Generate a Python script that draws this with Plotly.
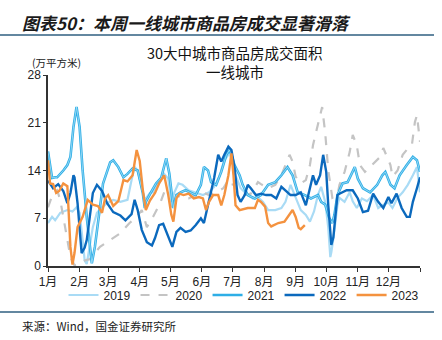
import plotly.graph_objects as go

# ---- data (day of year, value in 万平方米) ----
d2019 = [0,4,7,12,19,24,28,31,34,36,38,41,44,48,53,58,64,71,78,82,85,88,92,95,100,103,107,109,114,118,121,124,128,132,138,145,152,158,163,168,173,178,180,184,189,196,201,206,211,216,223,229,233,238,243,248,253,257,261,265,268,272,275,277,278,280,284,286,291,296,299,303,308,313,319,324,329,334,338,343,348,353,358,362,365]
v2019 = [6.3,7.2,6.7,7.8,8.2,8.0,8.6,7.8,3.8,0.8,0.3,2.8,5.7,7.8,8.6,9.2,9.7,9.4,9.7,12.6,14.5,14.0,11.7,9.7,10.7,10.8,12.1,12.1,13.5,12.8,9.4,10.8,12.1,11.9,11.1,10.8,10.4,10.8,11.6,13.1,15.5,16.5,15.8,13.3,11.4,10.4,9.9,10.1,9.4,8.2,8.2,8.5,9.4,11.9,9.9,8.2,7.5,6.5,8.0,10.5,11.6,9.4,5.6,1.3,2.0,4.0,8.9,10.0,9.4,10.8,9.5,8.5,9.9,9.5,10.4,8.5,9.0,9.3,8.5,10.0,10.8,11.9,13.3,14.5,10.8]

d2020 = [0,5,9,12,15,19,22,26,31,36,41,46,51,61,71,80,87,92,97,103,110,114,118,121,126,132,138,145,152,158,165,172,177,180,183,186,193,199,206,209,216,223,229,233,237,240,243,248,253,257,260,263,267,269,272,275,279,284,286,291,296,299,303,306,311,316,321,326,329,333,336,338,343,348,353,357,360,362,365]
v2020 = [8.6,10.7,11.1,9.7,7.2,3.8,1.3,0.1,0.3,0.8,1.0,1.9,2.8,3.8,4.8,6.3,7.2,8.2,5.7,7.2,9.2,10.8,10.4,8.5,10.4,9.9,9.9,10.4,10.8,10.4,10.8,11.4,12.6,11.9,12.0,10.8,10.4,10.6,12.3,12.0,11.4,11.9,13.3,14.8,16.3,15.3,13.1,12.1,12.6,14.8,17.7,19.6,22.1,23.3,19.5,14.0,10.0,10.4,11.9,13.8,16.7,19.2,17.7,14.8,13.8,14.5,15.3,16.0,17.3,16.0,14.8,13.1,14.0,16.3,17.2,17.7,21.1,22.1,18.2]

d2021 = [0,4,7,9,15,19,22,25,28,31,34,38,43,46,51,54,61,64,69,74,78,83,88,93,95,96,101,106,111,116,119,123,126,130,135,140,145,150,153,157,160,165,170,175,178,180,183,188,191,196,203,209,216,223,229,235,240,245,252,258,265,268,272,276,279,281,284,289,294,301,304,309,316,323,328,331,336,340,345,352,358,362,365]
v2021 = [16.8,12.9,13.0,13.0,14.0,14.8,16.0,20.4,23.3,20.4,14.0,7.2,0.4,2.8,8.6,12.1,15.2,15.5,14.5,13.0,13.5,14.3,14.0,10.7,8.5,9.4,10.8,12.1,12.9,15.8,13.6,8.5,10.4,10.8,11.1,10.8,10.4,11.9,14.5,14.0,12.3,11.9,13.8,16.3,17.0,16.3,14.8,13.3,11.9,10.4,9.9,10.4,11.9,12.3,13.3,14.5,13.3,10.8,10.4,9.9,10.4,9.4,9.0,7.0,6.3,7.5,10.4,12.1,12.3,14.5,12.8,11.4,10.8,11.9,13.3,13.8,11.9,11.4,13.3,14.8,16.0,15.5,13.8]

d2022 = [0,5,10,15,19,22,25,26,29,31,33,36,38,41,44,48,53,58,64,71,76,82,85,88,92,97,102,105,109,113,116,119,122,126,130,135,140,145,150,153,157,160,163,167,170,173,177,180,183,186,189,193,196,199,204,209,214,219,224,229,233,238,243,248,253,257,260,263,267,270,273,275,278,280,284,286,293,299,304,309,314,319,324,329,334,337,342,347,352,355,358,362,365]
v2022 = [12.5,11.4,12.0,11.0,9.2,10.7,13.3,13.0,9.2,5.7,1.9,2.7,3.8,7.2,10.7,11.9,11.0,9.2,7.9,7.4,6.7,7.6,9.7,8.2,5.3,3.5,3.0,4.1,6.0,6.2,5.0,4.0,2.8,5.0,5.6,5.0,5.2,6.0,7.0,6.3,9.0,10.8,12.9,16.3,15.3,16.3,17.5,17.0,14.4,10.4,9.4,10.4,11.9,11.4,10.4,10.6,10.4,10.4,9.9,11.6,11.1,10.4,10.4,10.8,8.9,11.4,13.3,11.9,13.3,16.3,13.8,8.9,3.1,4.2,10.4,10.6,11.1,11.1,9.9,7.9,8.1,10.6,9.4,8.5,10.1,9.2,10.6,8.5,7.2,7.2,9.4,11.4,13.0]

d2023 = [0,2,5,8,11,15,19,20,22,24,26,29,34,39,44,49,53,56,59,64,69,74,78,83,87,90,93,96,100,105,109,114,118,121,123,126,129,133,138,143,148,152,155,158,162,167,170,173,177,180,182,184,188,196,203,206,209,213,216,219,226,232,237,240,243,246,248,252]
v2023 = [15.5,12.1,12.0,10.7,11.0,12.1,11.7,8.2,2.8,0.2,1.9,5.7,7.2,9.7,9.0,8.8,7.8,9.9,10.4,8.8,9.5,12.6,12.4,13.3,17.0,15.4,11.2,8.2,9.6,10.7,12.1,13.3,10.4,7.5,6.5,9.9,10.6,10.4,10.6,9.9,10.1,9.9,8.2,9.4,10.4,10.4,8.9,10.4,13.3,16.5,13.3,8.9,8.2,8.5,8.5,9.7,9.4,8.7,6.3,5.8,6.3,6.5,7.5,8.2,7.2,5.6,5.4,6.0]

month_starts = [0, 31, 59, 90, 120, 151, 181, 212, 243, 273, 304, 334, 365]
month_labels = ["1月", "2月", "3月", "4月", "5月", "6月", "7月", "8月", "9月", "10月", "11月", "12月", ""]
y_ticks = [0, 7, 14, 21, 28]

header = "图表50：本周一线城市商品房成交显著滑落"
title1 = "30大中城市商品房成交面积"
title2 = "一线城市"
unit = "(万平方米)"
source = "来源：Wind，国金证券研究所"

C19, C20, C21, C22, C23 = "#a9dbf5", "#c4c4c4", "#2eaee6", "#0b69bd", "#f4923f"
FONT = "Liberation Sans, Noto Sans CJK SC, sans-serif"
CJK = "Noto Sans CJK SC, sans-serif"

fig = go.Figure()
fig.add_trace(go.Scatter(x=d2019, y=v2019, name="2019", mode="lines",
                         line=dict(color=C19, width=2.2)))
fig.add_trace(go.Scatter(x=d2020, y=v2020, name="2020", mode="lines",
                         line=dict(color=C20, width=2.2, dash="dash")))
fig.add_trace(go.Scatter(x=d2021, y=v2021, name="2021", mode="lines",
                         line=dict(color=C21, width=2.6)))
fig.add_trace(go.Scatter(x=d2021, y=v2021, name="2021", mode="lines", showlegend=False,
                         hoverinfo="skip", line=dict(color="#a8e0f8", width=0.8)))
fig.add_trace(go.Scatter(x=d2022, y=v2022, name="2022", mode="lines",
                         line=dict(color=C22, width=2.4)))
fig.add_trace(go.Scatter(x=d2023, y=v2023, name="2023", mode="lines",
                         line=dict(color=C23, width=2.4)))

L, R, T, B, W, H = 48, 22, 75, 74, 442, 340
pw, ph = W - L - R, H - T - B
def px(x):
    return (x - L) / pw
def py(y):
    return (H - B - y) / ph

line_col = "#2f5f80"
fig.update_layout(
    width=W, height=H,
    margin=dict(l=L, r=R, t=T, b=B),
    paper_bgcolor="white", plot_bgcolor="white",
    font=dict(family=FONT, size=12, color="#222"),
    showlegend=True,
    legend=dict(orientation="h", x=px(244), xanchor="center", y=py(295), yanchor="middle",
                font=dict(size=12, color="#222"), bgcolor="rgba(0,0,0,0)",
                itemwidth=30, tracegroupgap=0),
    xaxis=dict(range=[0, 365], tickvals=month_starts, ticktext=month_labels,
               showline=True, linecolor="#333", linewidth=1.5, ticks="outside",
               ticklen=4, tickcolor="#333", showgrid=False, zeroline=False,
               tickfont=dict(size=12, family=FONT)),
    yaxis=dict(range=[0, 28], tickvals=y_ticks, showline=True, linecolor="#333",
               linewidth=1.5, ticks="outside", ticklen=3, tickcolor="#333",
               showgrid=False, zeroline=False, tickfont=dict(size=12, family=FONT)),
    shapes=[
        dict(type="line", xref="paper", yref="paper", x0=px(0), x1=px(434),
             y0=py(35), y1=py(35), line=dict(color=line_col, width=1.5)),
        dict(type="line", xref="paper", yref="paper", x0=px(0), x1=px(434),
             y0=py(312), y1=py(312), line=dict(color=line_col, width=1.5)),
    ],
    annotations=[
        dict(text="<b><i>" + header + "</i></b>", xref="paper", yref="paper",
             x=px(20), y=py(23), xanchor="left", yanchor="middle", showarrow=False,
             font=dict(family=CJK, size=17, color="#1a1a1a")),
        dict(text=title1, xref="paper", yref="paper", x=px(235), y=py(52),
             xanchor="center", yanchor="middle", showarrow=False,
             font=dict(family=CJK, size=14.5, color="#111")),
        dict(text=title2, xref="paper", yref="paper", x=px(235), y=py(72),
             xanchor="center", yanchor="middle", showarrow=False,
             font=dict(family=CJK, size=14.5, color="#111")),
        dict(text=unit, xref="paper", yref="paper", x=px(30), y=py(63),
             xanchor="left", yanchor="middle", showarrow=False,
             font=dict(family=CJK, size=10.5, color="#222")),
        dict(text=source, xref="paper", yref="paper", x=px(20), y=py(326),
             xanchor="left", yanchor="middle", showarrow=False,
             font=dict(family=CJK, size=11.5, color="#222")),
    ],
)

fig.write_html("out.html")
